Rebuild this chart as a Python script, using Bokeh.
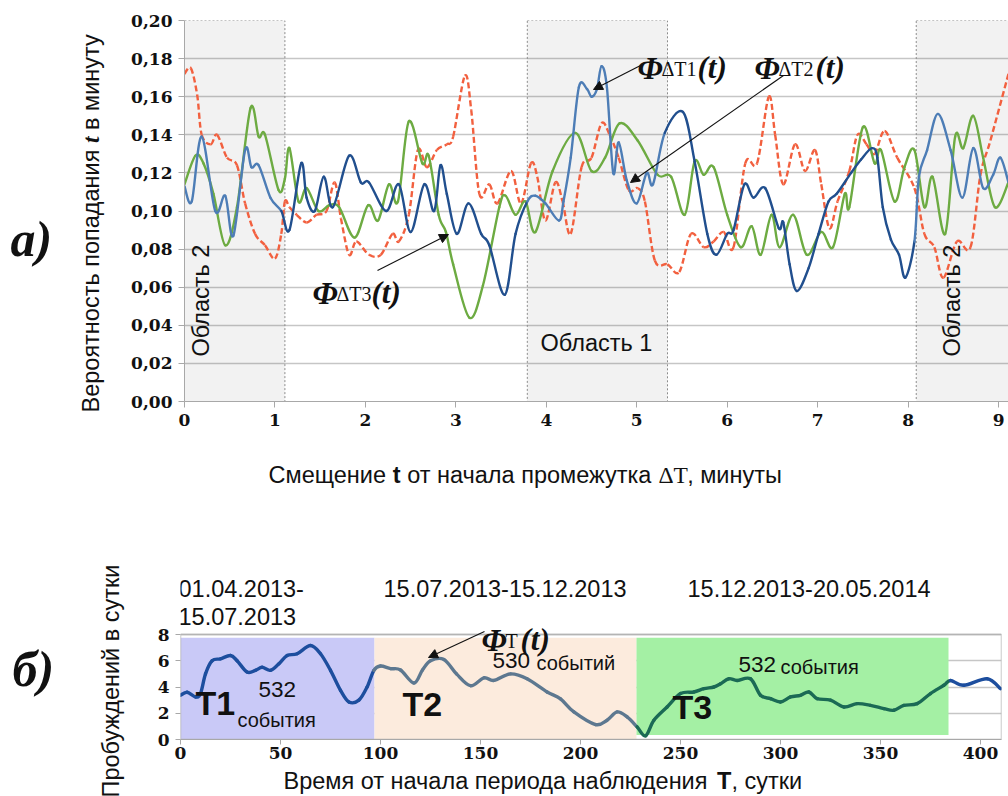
import math
from bokeh.plotting import figure
from bokeh.models import (Range1d, Label, Arrow, NormalHead, FixedTicker,
                          CustomJSTickFormatter, ColumnDataSource)
from bokeh.layouts import column, row
from bokeh.embed import file_html
from bokeh.resources import INLINE

# ---------------- (а) probability of hitting minute t ----------------
t_blue = [0.0, 0.08, 0.19, 0.34, 0.45, 0.54, 0.67, 0.74, 0.82, 0.95, 1.07, 1.16,
          1.29, 1.35, 1.44, 1.54, 1.64, 1.82, 1.95, 2.04, 2.23, 2.37, 2.50, 2.65,
          2.76, 2.83, 2.90, 3.01, 3.14, 3.28, 3.37, 3.54, 3.66, 3.79, 3.88, 3.99,
          4.14, 4.19, 4.27, 4.36, 4.45, 4.50, 4.56, 4.61, 4.67, 4.74, 4.80, 4.89,
          5.00, 5.11, 5.18, 5.31, 5.51, 5.64, 5.78, 5.88, 6.00, 6.07, 6.19, 6.29,
          6.42, 6.57, 6.62, 6.69, 6.77, 6.90, 7.01, 7.12, 7.21, 7.37, 7.48, 7.60,
          7.66, 7.72, 7.81, 7.90, 7.97, 8.07, 8.12, 8.21, 8.33, 8.47, 8.60, 8.72,
          8.83, 8.94, 9.02, 9.11]
p_blue = [0.113, 0.105, 0.139, 0.100, 0.108, 0.087, 0.132, 0.123, 0.124, 0.107,
          0.100, 0.090, 0.125, 0.107, 0.100, 0.118, 0.102, 0.129, 0.115, 0.115,
          0.100, 0.114, 0.089, 0.114, 0.100, 0.124, 0.109, 0.088, 0.104, 0.088,
          0.082, 0.056, 0.088, 0.105, 0.108, 0.104, 0.095, 0.105, 0.128, 0.165,
          0.164, 0.160, 0.164, 0.176, 0.165, 0.120, 0.136, 0.116, 0.104, 0.120,
          0.114, 0.141, 0.152, 0.126, 0.088, 0.077, 0.088, 0.090, 0.114, 0.107,
          0.112, 0.091, 0.094, 0.072, 0.058, 0.070, 0.088, 0.105, 0.109, 0.120,
          0.127, 0.133, 0.128, 0.102, 0.085, 0.077, 0.065, 0.084, 0.118, 0.132,
          0.151, 0.132, 0.107, 0.133, 0.112, 0.119, 0.128, 0.115]

t_green = [0.0, 0.12, 0.21, 0.32, 0.45, 0.58, 0.73, 0.82, 0.89, 1.04, 1.11, 1.16,
           1.26, 1.35, 1.48, 1.60, 1.71, 1.88, 2.03, 2.14, 2.26, 2.36, 2.48, 2.63,
           2.70, 2.81, 2.89, 2.97, 3.15, 3.30, 3.48, 3.55, 3.66, 3.77, 3.88, 4.07,
           4.32, 4.50, 4.65, 4.81, 5.01, 5.23, 5.38, 5.53, 5.64, 5.74, 5.85, 6.00,
           6.15, 6.27, 6.37, 6.49, 6.58, 6.73, 6.88, 7.04, 7.17, 7.30, 7.35, 7.50,
           7.63, 7.70, 7.85, 7.96, 8.07, 8.18, 8.27, 8.41, 8.52, 8.61, 8.72, 8.83,
           8.96, 9.11]
p_green = [0.114, 0.129, 0.125, 0.109, 0.082, 0.102, 0.154, 0.139, 0.140, 0.111,
           0.117, 0.133, 0.105, 0.112, 0.100, 0.103, 0.102, 0.086, 0.103, 0.095,
           0.114, 0.105, 0.147, 0.125, 0.129, 0.098, 0.089, 0.072, 0.044, 0.061,
           0.102, 0.108, 0.098, 0.105, 0.089, 0.121, 0.141, 0.121, 0.128, 0.146,
           0.137, 0.119, 0.118, 0.098, 0.126, 0.119, 0.123, 0.098, 0.081, 0.092,
           0.077, 0.098, 0.081, 0.098, 0.077, 0.089, 0.081, 0.109, 0.102, 0.144,
           0.125, 0.132, 0.105, 0.123, 0.132, 0.102, 0.118, 0.088, 0.139, 0.133,
           0.150, 0.128, 0.102, 0.115]

t_orange = [0.0, 0.07, 0.14, 0.19, 0.29, 0.36, 0.47, 0.58, 0.67, 0.78, 0.89, 1.00,
            1.07, 1.11, 1.16, 1.24, 1.35, 1.46, 1.57, 1.66, 1.73, 1.82, 1.90, 2.04,
            2.17, 2.30, 2.37, 2.48, 2.58, 2.68, 2.79, 2.90, 2.97, 3.10, 3.17, 3.26,
            3.37, 3.46, 3.61, 3.72, 3.83, 3.90, 3.99, 4.10, 4.18, 4.27, 4.39, 4.50,
            4.61, 4.70, 4.80, 4.91, 5.01, 5.09, 5.20, 5.34, 5.47, 5.60, 5.74, 5.85,
            5.96, 6.07, 6.20, 6.33, 6.46, 6.53, 6.62, 6.75, 6.86, 6.97, 7.04, 7.13,
            7.22, 7.35, 7.44, 7.54, 7.63, 7.74, 7.88, 8.07, 8.18, 8.29, 8.39, 8.54,
            8.69, 8.80, 8.91, 9.11]
p_orange = [0.172, 0.175, 0.161, 0.140, 0.135, 0.140, 0.128, 0.124, 0.104, 0.088,
            0.082, 0.075, 0.088, 0.105, 0.102, 0.098, 0.094, 0.098, 0.100, 0.115,
            0.096, 0.077, 0.084, 0.077, 0.077, 0.088, 0.084, 0.098, 0.132, 0.123,
            0.132, 0.135, 0.139, 0.171, 0.153, 0.109, 0.114, 0.104, 0.121, 0.104,
            0.125, 0.118, 0.095, 0.115, 0.105, 0.088, 0.123, 0.128, 0.146, 0.140,
            0.128, 0.111, 0.112, 0.105, 0.074, 0.072, 0.068, 0.088, 0.081, 0.084,
            0.089, 0.081, 0.125, 0.125, 0.160, 0.140, 0.114, 0.135, 0.121, 0.132,
            0.114, 0.091, 0.105, 0.121, 0.140, 0.135, 0.130, 0.142, 0.128, 0.112,
            0.088, 0.081, 0.065, 0.084, 0.081, 0.119, 0.137, 0.172]

region_left = [0.0, 3.79, 8.09]
region_right = [1.11, 5.34, 9.11]
region_names = ["Область 2", "Область 1", "Область 2"]
minute_ticks = [0, 1, 2, 3, 4, 5, 6, 7, 8, 9]
prob_ticks = [0.0, 0.02, 0.04, 0.06, 0.08, 0.10, 0.12, 0.14, 0.16, 0.18, 0.20]

# ---------------- (б) wake-ups per day ----------------
days = [0, 3.3, 7.5, 10, 12.5, 15.8, 20, 25, 28.3, 33.3, 37.5, 40.8, 45, 49.2,
        53.3, 58.3, 65, 70, 75, 80, 84.2, 89.2, 93.3, 96.7, 100, 105, 110, 116.7,
        121, 125, 131.7, 138, 145, 151.7, 156.7, 165, 173.3, 183.3, 190, 196.7,
        207.5, 213.3, 218.3, 223.3, 228.3, 232.5, 236.7, 243.3, 250, 256.7, 261.7,
        266.7, 270, 274.2, 278.3, 285, 290, 295, 300, 305, 310, 314.2, 318.3, 325,
        331.7, 338.3, 345, 351.7, 356.7, 361.7, 368.3, 375, 381.7, 385, 391.7,
        403.3, 410]
wakeups = [3.37, 3.6, 3.24, 3.5, 5.0, 6.0, 6.15, 6.4, 6.0, 5.14, 5.27, 5.5, 5.27,
           5.77, 6.4, 6.53, 7.16, 6.53, 5.27, 3.75, 2.86, 3.0, 4.0, 5.27, 5.6, 5.4,
           5.3, 4.3, 5.3, 6.0, 6.1, 5.0, 4.1, 4.7, 4.5, 5.0, 4.63, 3.62, 3.1, 2.1,
           1.14, 1.47, 2.1, 1.72, 0.96, 0.28, 1.47, 2.48, 3.5, 3.62, 3.87, 4.0,
           4.25, 4.63, 4.5, 4.63, 3.37, 3.11, 2.86, 3.24, 3.37, 3.62, 3.11, 3.0,
           2.48, 2.73, 2.6, 2.35, 2.23, 2.6, 2.73, 3.5, 4.13, 4.5, 4.13, 4.63, 3.87]

period_start = [0, 97, 228]
period_end = [97, 228, 384]
period_bottom = [0, 0, 0.35]
period_top = [7.75, 7.75, 7.75]
period_fill = ["#c9c9f7", "#fcebdd", "#a4f0a4"]
period_dates = [["01.04.2013-", "15.07.2013"], ["15.07.2013-15.12.2013"],
                ["15.12.2013-20.05.2014"]]
period_events = [("532", "события"), ("530", "событий"), ("532", "события")]
period_names = ["T1", "T2", "T3"]
day_ticks = [0, 50, 100, 150, 200, 250, 300, 350, 400]
wake_ticks = [0, 2, 4, 6, 8]

SANS = "Liberation Sans"
SERIF = "Liberation Serif"
TICKF = "DejaVu Serif"
INK = "#111111"
TXT = 23.5          # size of the plain captions

# advance widths of Liberation Sans glyphs, in em
ADV = {" ": .278, ",": .278, ".": .278, "-": .333, "t": .278,
       "а": .556, "б": .573, "в": .531, "г": .365, "д": .583, "е": .556,
       "ж": .669, "з": .458, "и": .559, "й": .559, "к": .438, "л": .583,
       "м": .688, "н": .552, "о": .556, "п": .542, "р": .556, "с": .500,
       "т": .458, "у": .500, "ф": .823, "х": .500, "ц": .573, "ч": .521,
       "ш": .802, "щ": .823, "ъ": .625, "ы": .719, "ь": .521, "э": .510,
       "ю": .750, "я": .542, "В": .667, "С": .722, "П": .722, "О": .778}


def em(text):
    return sum(ADV.get(ch, .556) for ch in text)


# ---- page geometry (pixels) ----
PAGE_W = 1008
A_H = 440          # upper chart row
A_LEFT = 120       # caption strip left of the upper chart
B_H = 60           # strip with the upper x-axis title
C_H = 296          # lower chart block
C_LEFT = 140       # caption strip left of the lower chart
C_PLOT_H = 268     # lower chart itself, the rest holds its x-axis title

T_L, T_R, T_T, T_B = 184, 1008, 20, 401     # upper frame on the page
X1_MAX = 9.11
Y1_MAX = 0.20
B_L, B_R, B_T, B_B = 180, 1001, 570, 739    # lower frame on the page
Y8_PY = 634                                  # page row of the value 8
X2_MAX = 410.5
Y2_PER_PX = 8 / (B_B - Y8_PY)
Y2_TOP = (B_B - B_T) * Y2_PER_PX


def tx1(px):
    return (px - T_L) * X1_MAX / (T_R - T_L)


def ty1(py):
    return (T_B - py) * Y1_MAX / (T_B - T_T)


def tx2(px):
    return (px - B_L) * X2_MAX / (B_R - B_L)


def ty2(py):
    return (B_B - py) * Y2_PER_PX


def loose(fig):
    # keep each canvas' own frame instead of lining frames up across a row
    if "frame_align" in fig.properties():
        fig.frame_align = False
    return fig


def smooth_segments(xs, ys, colour_of):
    """Cubic pieces through consecutive points (Catmull-Rom handles)."""
    n = len(xs)
    d = {k: [] for k in ("x0", "y0", "x1", "y1", "cx0", "cy0", "cx1", "cy1",
                         "c")}
    for i in range(n - 1):
        xp, yp = (xs[i - 1], ys[i - 1]) if i > 0 else (xs[i], ys[i])
        xn, yn = (xs[i + 2], ys[i + 2]) if i + 2 < n else (xs[i + 1], ys[i + 1])
        d["x0"].append(xs[i]); d["y0"].append(ys[i])
        d["x1"].append(xs[i + 1]); d["y1"].append(ys[i + 1])
        d["cx0"].append(xs[i] + (xs[i + 1] - xp) / 6)
        d["cy0"].append(ys[i] + (ys[i + 1] - yp) / 6)
        d["cx1"].append(xs[i + 1] - (xn - xs[i]) / 6)
        d["cy1"].append(ys[i + 1] - (yn - ys[i]) / 6)
        d["c"].append(colour_of(0.5 * (xs[i] + xs[i + 1])))
    return ColumnDataSource(d)


def draw_curve(fig, src, **kw):
    fig.bezier(x0="x0", y0="y0", x1="x1", y1="y1", cx0="cx0", cy0="cy0",
               cx1="cx1", cy1="cy1", source=src, line_color="c", **kw)


def put(fig, text, x, y, size, font=SANS, style="normal", align="left",
        baseline="middle", angle=0.0, color=INK):
    fig.add_layout(Label(x=x, y=y, text=text, text_font=font,
                         text_font_size=f"{size}px", text_font_style=style,
                         text_align=align, text_baseline=baseline, angle=angle,
                         text_color=color))


def chain(fig, x, y, pieces, size, vertical=False):
    """Lay pieces (text, font, style, width_em) one after another on a strip
    whose units are pixels with y growing downward."""
    pos = 0.0
    for text, font, style, w in pieces:
        if text.strip():
            if vertical:
                put(fig, text.strip(), x, y - pos, size, font=font,
                    style=style, angle=math.pi / 2)
            else:
                put(fig, text.strip(), x + pos, y, size, font=font,
                    style=style)
        pos += (w if w is not None else em(text)) * size


def arrow(fig, x0, y0, x1, y1):
    fig.add_layout(Arrow(x_start=x0, y_start=y0, x_end=x1, y_end=y1,
                         line_color=INK, line_width=1.1,
                         end=NormalHead(size=9, fill_color=INK,
                                        line_color=INK)))


def text_strip(w, h):
    # a blank canvas whose data units are its own pixels (y grows downward)
    f = figure(width=w, height=h, x_range=Range1d(0, w), y_range=Range1d(h, 0),
               output_backend="svg", toolbar_location=None,
               x_axis_location=None, y_axis_location=None, min_border=0)
    f.outline_line_color = None
    f.grid.visible = False
    return loose(f)


def style_axes(fig, tick_font_size, xt, yt):
    for ax in (fig.xaxis[0], fig.yaxis[0]):
        ax.major_label_text_font = TICKF
        ax.major_label_text_font_style = "bold"
        ax.major_label_text_font_size = tick_font_size
        ax.major_label_text_color = INK
        ax.axis_line_color = "#a8a8a8"
        ax.major_tick_line_color = "#a8a8a8"
        ax.major_tick_in = 0
        ax.major_tick_out = 6
        ax.minor_tick_line_color = None
    fig.xaxis[0].ticker = FixedTicker(ticks=xt)
    fig.yaxis[0].ticker = FixedTicker(ticks=yt)
    fig.xgrid.visible = False
    fig.ygrid.ticker = FixedTicker(ticks=yt)
    fig.ygrid.grid_line_color = "#c6c6c6"
    fig.ygrid.grid_line_width = 1.6


def phi(fig, fx, fy, x_phi, x_sub, x_par, base_py, sub):
    put(fig, "Φ", fx(x_phi), fy(base_py), 32, font=SERIF,
        style="bold italic", baseline="alphabetic")
    put(fig, sub, fx(x_sub), fy(base_py + 1), 20, font=SERIF,
        baseline="alphabetic")
    put(fig, "(t)", fx(x_par), fy(base_py), 31, font=SERIF,
        style="bold italic", baseline="alphabetic")


# ======================= upper chart =======================
p1 = figure(width=PAGE_W - A_LEFT, height=A_H, x_range=Range1d(0, X1_MAX),
            y_range=Range1d(0, Y1_MAX), output_backend="svg",
            toolbar_location=None, min_border_left=T_L - A_LEFT,
            min_border_right=0, min_border_top=T_T,
            min_border_bottom=A_H - T_B)
loose(p1)
p1.outline_line_color = None
style_axes(p1, "17px", minute_ticks, prob_ticks)
p1.yaxis[0].formatter = CustomJSTickFormatter(
    code="return tick.toFixed(2).replace('.', ',');")
p1.yaxis[0].major_label_standoff = 6
p1.xaxis[0].major_label_standoff = 6

# shaded regions
p1.quad(left=region_left, right=region_right, bottom=0, top=Y1_MAX,
        fill_color="#000000", fill_alpha=0.05, line_color="#8c8c8c",
        line_dash="2 2", line_width=1)


def in_region(x):
    return any(lo <= x <= hi for lo, hi in zip(region_left, region_right))


draw_curve(p1, smooth_segments(t_orange, p_orange, lambda x: "#f2603f"),
           line_width=2.4, line_dash="6 3")
draw_curve(p1, smooth_segments(t_green, p_green, lambda x: "#6dab42"),
           line_width=2.4, line_cap="round")
draw_curve(p1, smooth_segments(t_blue, p_blue,
                               lambda x: "#4d7db6" if in_region(x)
                               else "#214f8e"),
           line_width=2.4, line_cap="round")

put(p1, region_names[0], tx1(200), ty1(356), TXT, angle=math.pi / 2)
put(p1, region_names[1], tx1(540), ty1(342), TXT)
put(p1, region_names[2], tx1(951), ty1(356), TXT, angle=math.pi / 2)

phi(p1, tx1, ty1, 637, 661, 697, 67, "ΔT1")
phi(p1, tx1, ty1, 754, 778, 815, 67, "ΔT2")
phi(p1, tx1, ty1, 312, 336, 371, 292, "ΔT3")
arrow(p1, tx1(640), ty1(65), tx1(593), ty1(89))
arrow(p1, tx1(783), ty1(75), tx1(630), ty1(182))
arrow(p1, tx1(377), ty1(270), tx1(448), ty1(234))

# caption strip on the left of the upper chart
capA = text_strip(A_LEFT, A_H)
put(capA, "а)", 10, 238, 50, font=SERIF, style="bold italic")
chain(capA, 90, 412, [("Вероятность попадания ", SANS, "normal", None),
                      ("t", SERIF, "bold italic", .278 + .278),
                      ("в минуту", SANS, "normal", None)], TXT, vertical=True)

# upper x-axis title
capB = text_strip(PAGE_W, B_H)
chain(capB, 268, 474 - A_H, [("Смещение ", SANS, "normal", None),
                             ("t", SANS, "bold", .333 + .278),
                             ("от начала промежутка ", SANS, "normal", None),
                             ("ΔT", SERIF, "normal", 1.223),
                             (", минуты", SANS, "normal", None)], TXT)

# ======================= lower chart =======================
C0 = A_H + B_H      # page row where the lower block starts
p2 = figure(width=PAGE_W - C_LEFT, height=C_PLOT_H,
            x_range=Range1d(0, X2_MAX), y_range=Range1d(0, Y2_TOP),
            output_backend="svg", toolbar_location=None,
            min_border_left=B_L - C_LEFT, min_border_right=PAGE_W - B_R,
            min_border_top=B_T - C0, min_border_bottom=C0 + C_PLOT_H - B_B)
loose(p2)
p2.outline_line_color = None
style_axes(p2, "17px", day_ticks, wake_ticks)
p2.xaxis[0].major_tick_out = 5
p2.yaxis[0].major_tick_out = 5
p2.xaxis[0].major_label_standoff = 2
p2.yaxis[0].major_label_standoff = 6
p2.yaxis[0].axis_line_color = None

p2.quad(left=period_start, right=period_end, bottom=period_bottom,
        top=period_top, fill_color=period_fill, line_color=None)
# plot-area box from 0 to 8
p2.quad(left=0, right=X2_MAX, bottom=0, top=wake_ticks[-1], fill_color=None,
        line_color="#b4b4b4", line_width=1.4)

period_cols = ["#1d4e9e", "#5d7890", "#1b6a55"]


def period_colour(d):
    for lo, hi, col in zip(period_start, period_end, period_cols):
        if lo <= d < hi:
            return col
    return "#1d4e9e"


draw_curve(p2, smooth_segments(days, wakeups, period_colour), line_width=3.4,
           line_cap="round")

put(p2, period_dates[0][0], tx2(178), ty2(588), TXT)
put(p2, period_dates[0][1], tx2(178), ty2(616), TXT)
put(p2, period_dates[1][0], tx2(383), ty2(588), TXT)
put(p2, period_dates[2][0], tx2(687), ty2(588), TXT)

put(p2, period_names[0], tx2(195), ty2(702), 34, style="bold")
put(p2, period_names[1], tx2(402), ty2(703), 34, style="bold")
put(p2, period_names[2], tx2(672), ty2(706), 34, style="bold")

put(p2, period_events[0][0], tx2(258), ty2(689), 22.5)
put(p2, period_events[0][1], tx2(237), ty2(719), 20)
put(p2, period_events[1][0], tx2(492), ty2(660), 22.5)
put(p2, period_events[1][1], tx2(536), ty2(662), 20)
put(p2, period_events[2][0], tx2(738), ty2(664), 22.5)
put(p2, period_events[2][1], tx2(780), ty2(666), 20)

phi(p2, tx2, ty2, 481, 505, 520, 639, "T")
arrow(p2, tx2(484), ty2(631), tx2(428), ty2(657))

capC = text_strip(C_LEFT, C_H)
put(capC, "б)", 12, 668 - C0, 50, font=SERIF, style="bold italic")
put(capC, "Пробуждений в сутки", 110, 797 - C0, TXT, angle=math.pi / 2)

capD = text_strip(PAGE_W - C_LEFT, C_H - C_PLOT_H)
chain(capD, 283 - C_LEFT, 780 - (C0 + C_PLOT_H),
      [("Время от начала периода наблюдения ", SANS, "normal", None),
       ("T", SANS, "bold", .611),
       (", сутки", SANS, "normal", None)], TXT)

layout = column(row(capA, p1, spacing=0), capB,
                row(capC, column(p2, capD, spacing=0), spacing=0),
                spacing=0)
open("out.html", "w").write(file_html(layout, INLINE))
